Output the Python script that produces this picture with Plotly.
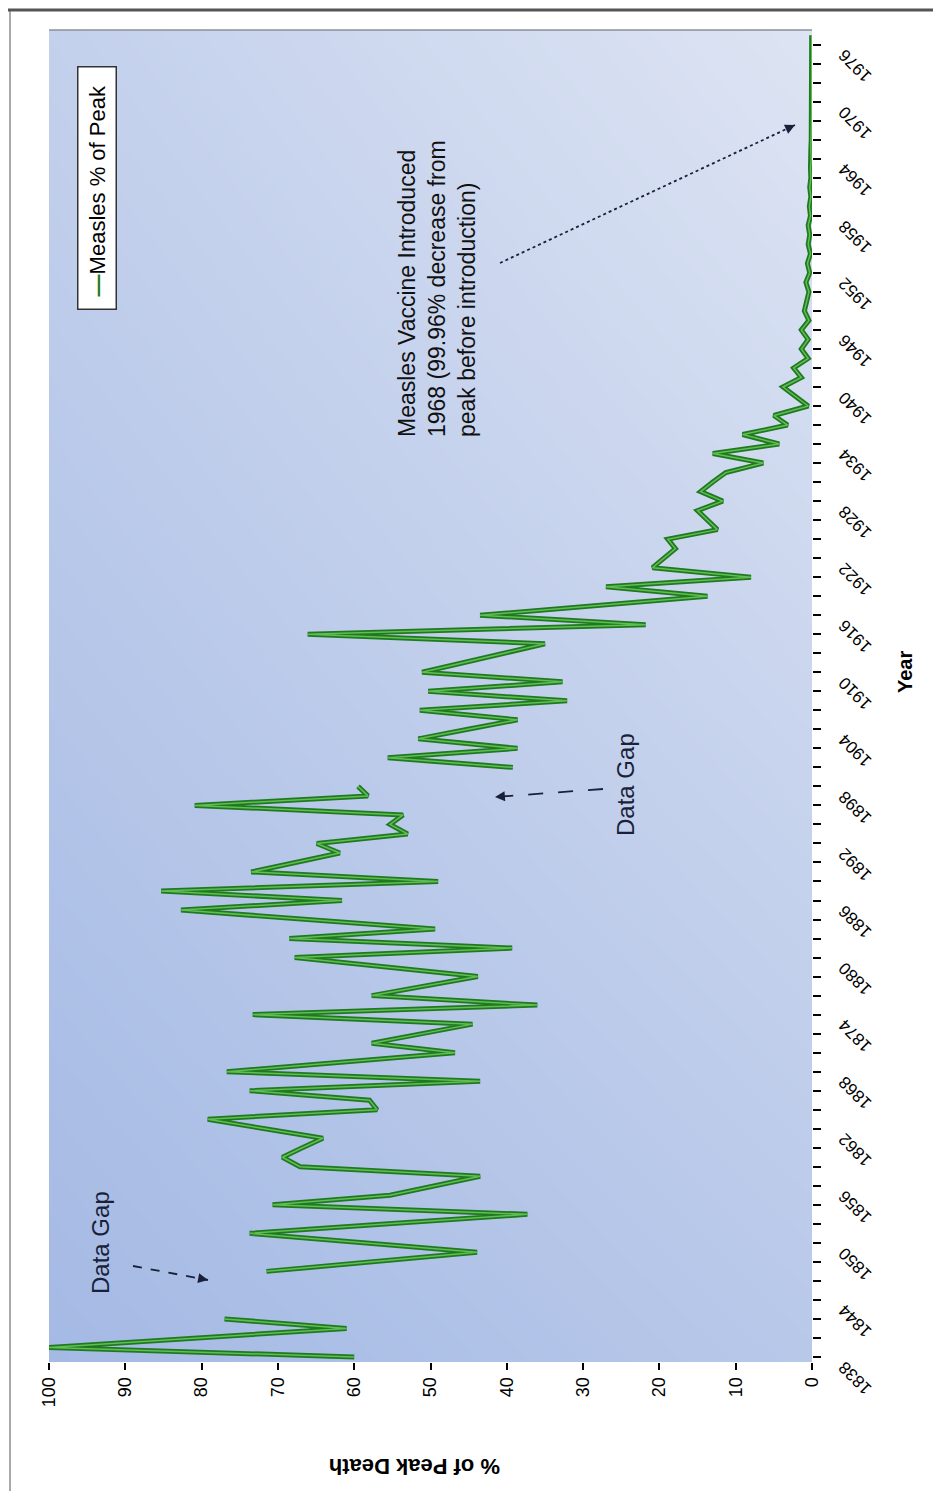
import plotly.graph_objects as go

# measles deaths as % of the peak year, one value per year (None = data gap)
years = list(range(1838, 1978))
pct_of_peak = [
    60, 100,
    80.5, 61, 77, None, None, None, None, 71.5, 57.7, 43.9,        # 1840s
    58.8, 73.7, 55.5, 37.3, 70.7, 55.3, 49.4, 43.5, 67.1, 69.4,    # 1850s
    66.8, 64.1, 71.7, 79.2, 57.0, 58.0, 73.7, 43.5, 76.7, 61.8,    # 1860s
    46.8, 57.7, 51.1, 44.5, 73.3, 36.0, 57.7, 50.8, 43.8, 55.8,    # 1870s
    67.8, 39.3, 68.5, 49.4, 66.1, 82.7, 61.6, 85.3, 49.0, 73.5,    # 1880s
    67.7, 61.9, 64.9, 53.0, 55.3, 53.6, 80.9, 58.2, 59.5, None,    # 1890s
    39.2, 55.6, 38.6, 51.6, 45.1, 38.6, 51.4, 32.1, 50.3, 32.7,    # 1900s
    51.1, 45.7, 40.4, 35.0, 66.1, 21.8, 43.5, 28.6, 13.7, 27.0,    # 1910s
    8.0, 20.9, 19.4, 17.9, 18.9, 12.4, 13.7, 15.0, 11.7, 14.6,     # 1920s
    13.0, 11.3, 6.4, 13.0, 4.3, 9.1, 3.2, 5.0, 0.5, 2.2,           # 1930s
    3.8, 1.4, 2.4, 0.5, 1.4, 0.5, 1.4, 0.4, 1.0, 0.7,              # 1940s
    0.4, 0.8, 0.3, 0.6, 0.2, 0.5, 0.3, 0.5, 0.2, 0.35,             # 1950s
    0.15, 0.3, 0.15, 0.2, 0.1, 0.15, 0.1, 0.08, 0.06, 0.05,        # 1960s
    0.04, 0.04, 0.04, 0.04, 0.04, 0.04, 0.04, 0.04,                # 1970s
]
year_ticks = list(range(1838, 1977, 6))
pct_ticks = list(range(0, 101, 10))

# corner shades of the plot background (bottom row first)
bg_z = [[0.0, 0.35], [0.55, 1.0]]

FONT = "Liberation Sans, Arial, sans-serif"
INK = "#1a1f3a"

# page pixel -> paper fraction (plot area sits at 49..812 x 30..1362 on the page;
# the page body adds 8px, hence the smaller left/top margins)
def px_x(px):
    return (px - 49) / 763

def px_y(py):
    return (1362 - py) / 1332


fig = go.Figure()

# gradient background on hidden base axes
fig.add_trace(go.Heatmap(
    x=[0, 1], y=[0, 1], z=bg_z,
    colorscale=[[0, "#a4b9e4"], [1, "#dde4f3"]],
    zsmooth="best", showscale=False, hoverinfo="skip",
    xaxis="x", yaxis="y"))

# the data line: dark edge + lighter core
fig.add_trace(go.Scatter(
    x=pct_of_peak, y=years, mode="lines",
    line=dict(color="#1f7a1f", width=5),
    connectgaps=False, xaxis="x2", yaxis="y2",
    name="Measles % of Peak", showlegend=False))
fig.add_trace(go.Scatter(
    x=pct_of_peak, y=years, mode="lines",
    line=dict(color="#62bd55", width=1.5),
    connectgaps=False, xaxis="x2", yaxis="y2",
    hoverinfo="skip", showlegend=False))

fig.update_layout(
    width=941, height=1491,
    margin=dict(l=41, r=137, t=22, b=137),
    paper_bgcolor="white", plot_bgcolor="white",
    font=dict(family=FONT, color="black"),
    xaxis=dict(range=[0, 1], visible=False, fixedrange=True),
    yaxis=dict(range=[0, 1], visible=False, fixedrange=True),
    xaxis2=dict(
        overlaying="x", anchor="y2", side="bottom",
        range=[100, 0], tickvals=pct_ticks,
        ticks="outside", ticklen=7, tickwidth=1.5, tickcolor="black",
        tickangle=-90, tickfont=dict(size=18, family=FONT, color="black"),
        showgrid=False, zeroline=False, showline=False),
    yaxis2=dict(
        overlaying="y", anchor="x2", side="right",
        range=[1837.47, 1977.54], tickvals=year_ticks,
        ticktext=[str(y) for y in year_ticks],
        ticks="outside", ticklen=8, tickwidth=1.5, tickcolor="black",
        minor=dict(tick0=1838, dtick=2, ticks="outside", ticklen=8,
                   tickwidth=1.5, tickcolor="black"),
        tickangle=-135, ticklabelstandoff=42, ticklabelshift=39,
        tickfont=dict(size=17, family=FONT, color="black"),
        showgrid=False, zeroline=False, showline=False),
)

# frame + plot border
shapes = [
    dict(type="line", xref="paper", yref="paper",
         x0=px_x(0), x1=px_x(941), y0=px_y(10), y1=px_y(10),
         line=dict(color="#555555", width=3)),
    dict(type="line", xref="paper", yref="paper",
         x0=px_x(10), x1=px_x(10), y0=px_y(10), y1=px_y(1491),
         line=dict(color="#555555", width=1)),
    dict(type="line", xref="paper", yref="paper",
         x0=0, x1=1, y0=1, y1=1,
         line=dict(color="#8a8f99", width=1.5)),
]

# dashed arrow shafts: (tail, head, dash)
arrows = [
    ((133, 1266), (208, 1280), "dash"),
    ((603, 789), (495, 797), "longdash"),
    ((500, 263), (795, 125), "dot"),
]
annotations = []
for (tx, ty), (hx, hy), dash in arrows:
    shapes.append(dict(type="line", xref="paper", yref="paper",
                       x0=px_x(tx), y0=px_y(ty), x1=px_x(hx), y1=px_y(hy),
                       line=dict(color=INK, width=1.8, dash=dash)))
    dx, dy = hx - tx, hy - ty
    n = (dx * dx + dy * dy) ** 0.5
    annotations.append(dict(
        x=px_x(hx), y=px_y(hy), xref="paper", yref="paper", text="",
        showarrow=True, ax=-8 * dx / n, ay=-8 * dy / n,
        arrowhead=2, arrowsize=1.1, arrowwidth=1.8, arrowcolor=INK))

# legend drawn as a rotated boxed label
annotations.append(dict(
    x=px_x(97), y=px_y(188), xref="paper", yref="paper",
    text='&nbsp;<span style="color:#1f7a1f"><b>—</b></span>Measles % of Peak&nbsp;&nbsp;',
    textangle=-90, showarrow=False, xanchor="center", yanchor="middle",
    font=dict(size=22, family=FONT, color="black"),
    bgcolor="white", bordercolor="#333333", borderwidth=1.5, borderpad=6))

annotations.append(dict(
    x=px_x(437), y=px_y(289), xref="paper", yref="paper",
    text="Measles Vaccine Introduced<br>1968 (99.96% decrease from<br>peak before introduction)",
    align="left", textangle=-90, showarrow=False,
    xanchor="center", yanchor="middle",
    font=dict(size=23, family=FONT, color="#111111")))

for cx, cy in [(100, 1243), (625, 785)]:
    annotations.append(dict(
        x=px_x(cx), y=px_y(cy), xref="paper", yref="paper",
        text="Data Gap", textangle=-90, showarrow=False,
        xanchor="center", yanchor="middle",
        font=dict(size=24, family=FONT, color=INK)))

# axis titles (rotated like the rest of the picture)
annotations.append(dict(
    x=px_x(905), y=px_y(672), xref="paper", yref="paper",
    text="<b>Year</b>", textangle=-90, showarrow=False,
    xanchor="center", yanchor="middle",
    font=dict(size=20, family=FONT, color="black")))
annotations.append(dict(
    x=px_x(415), y=px_y(1467), xref="paper", yref="paper",
    text="<b>% of Peak Death</b>", textangle=180, showarrow=False,
    xanchor="center", yanchor="middle",
    font=dict(size=22, family=FONT, color="black")))

fig.update_layout(shapes=shapes, annotations=annotations)

fig.write_html("out.html")
